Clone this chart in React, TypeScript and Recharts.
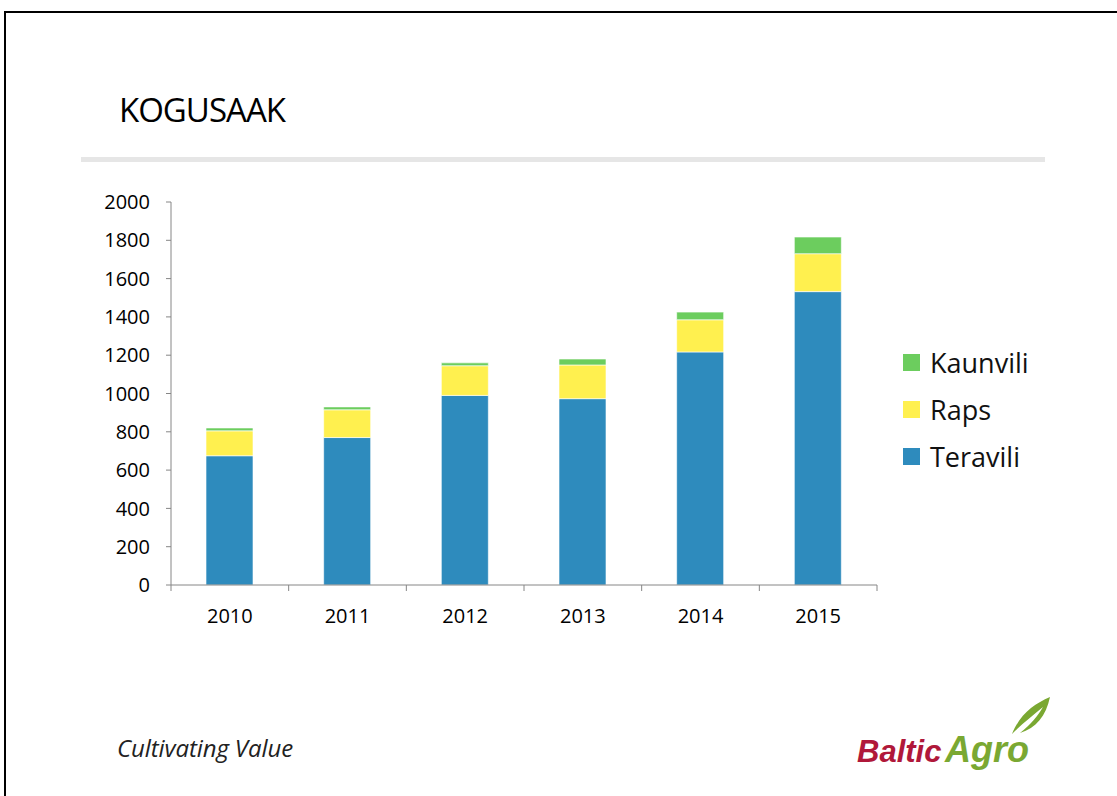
import React from "react";
import { BarChart, Bar, XAxis, YAxis, Legend } from "recharts";

const years = ["2010", "2011", "2012", "2013", "2014", "2015"];
const teravili = [675, 770, 990, 973, 1217, 1532];
const raps = [130, 145, 155, 176, 168, 198];
const kaunvili = [15, 15, 15, 31, 40, 87];
const yTicks = [0, 200, 400, 600, 800, 1000, 1200, 1400, 1600, 1800, 2000];

const data = years.map((year, i) => ({
  year,
  Teravili: teravili[i],
  Raps: raps[i],
  Kaunvili: kaunvili[i],
}));

const FONT = "'Open Sans', 'Liberation Sans', sans-serif";
const AXIS = "#868686";

const YearTick = (props: any) => {
  const { x, y, payload, index, width, visibleTicksCount } = props;
  const half = width / visibleTicksCount / 2;
  return (
    <g>
      <line x1={x - half} x2={x - half} y1={y - 8} y2={y - 2} stroke={AXIS} />
      {index === visibleTicksCount - 1 && (
        <line x1={x + half} x2={x + half} y1={y - 8} y2={y - 2} stroke={AXIS} />
      )}
      <text x={x} y={y} dy={30} textAnchor="middle" fill="#000" fontSize={20} fontFamily={FONT}>
        {payload.value}
      </text>
    </g>
  );
};

// legend order as on the slide: Kaunvili, Raps, Teravili
const legendOrder = ["Kaunvili", "Raps", "Teravili"];

const LegendBox = ({ payload }: any) => {
  const items = legendOrder
    .map((name) => (payload || []).find((p: any) => p.value === name))
    .filter(Boolean);
  return (
    <div style={{ fontFamily: FONT }}>
      {items.map((p: any) => (
        <div key={p.value} style={{ display: "flex", alignItems: "center", height: 47 }}>
          <span style={{ width: 17, height: 17, background: p.color, display: "inline-block", marginRight: 10 }} />
          <span style={{ fontSize: 27, color: "#111" }}>{p.value}</span>
        </div>
      ))}
    </div>
  );
};

const App = () => {
  return (
    <div style={{ position: "absolute", left: 0, top: 0, width: 1117, height: 796, background: "#fff", overflow: "hidden" }}>
      {/* slide frame */}
      <div style={{ position: "absolute", left: 4, top: 11, width: 1113, height: 2, background: "#000" }} />
      <div style={{ position: "absolute", left: 4, top: 11, width: 2, height: 785, background: "#000" }} />

      <div style={{ position: "absolute", left: 119, top: 87, fontFamily: FONT, fontSize: 33, color: "#000", letterSpacing: -1 }}>
        KOGUSAAK
      </div>
      <div style={{ position: "absolute", left: 81, top: 157, width: 964, height: 5, background: "#e6e6e6" }} />

      <div style={{ position: "absolute", left: 0, top: 0 }}>
        <BarChart
          width={1117}
          height={796}
          data={data}
          barSize={47}
          margin={{ top: 202, right: 240, left: 111, bottom: 171 }}
        >
          <XAxis
            dataKey="year"
            axisLine={{ stroke: AXIS }}
            tickLine={false}
            tickSize={6}
            tickMargin={2}
            height={40}
            tick={<YearTick />}
            interval={0}
          />
          <YAxis
            domain={[0, 2000]}
            ticks={yTicks}
            width={60}
            axisLine={{ stroke: AXIS }}
            tickLine={{ stroke: AXIS }}
            tickSize={5}
            tickMargin={16}
            tick={{ fill: "#000", fontSize: 20, fontFamily: FONT }}
          />
          <Legend
            layout="horizontal"
            align="center"
            verticalAlign="middle"
            wrapperStyle={{ left: 903, top: 339, width: 200 }}
            content={<LegendBox />}
          />
          <Bar dataKey="Teravili" stackId="a" fill="#2e8bbd" stroke="rgba(255,255,255,0.6)" strokeWidth={1} isAnimationActive={false} />
          <Bar dataKey="Raps" stackId="a" fill="#fff04f" stroke="rgba(255,255,255,0.6)" strokeWidth={1} isAnimationActive={false} />
          <Bar dataKey="Kaunvili" stackId="a" fill="#6ccd5e" stroke="rgba(255,255,255,0.6)" strokeWidth={1} isAnimationActive={false} />
        </BarChart>
      </div>

      <div style={{ position: "absolute", left: 117, top: 731, fontFamily: FONT, fontStyle: "italic", fontSize: 24, color: "#222", letterSpacing: -0.1 }}>
        Cultivating Value
      </div>

      {/* logo */}
      <svg style={{ position: "absolute", left: 840, top: 690 }} width={220} height={90}>
        <path d="M172 44 C180 24 194 14 210 7 C206 26 196 38 180 43 C191 34 198 26 203 17 C192 26 182 34 172 44 Z" fill="#7aa832" />
        <text x={17} y={72} fontFamily="'Liberation Sans', sans-serif" fontWeight="bold" fontStyle="italic" fontSize={31} fill="#b0183a">
          Baltic
        </text>
        <text x={105} y={72} fontFamily="'Liberation Sans', sans-serif" fontWeight="bold" fontStyle="italic" fontSize={36} fill="#7aa832">
          Agro
        </text>
      </svg>
    </div>
  );
};

export default App;
